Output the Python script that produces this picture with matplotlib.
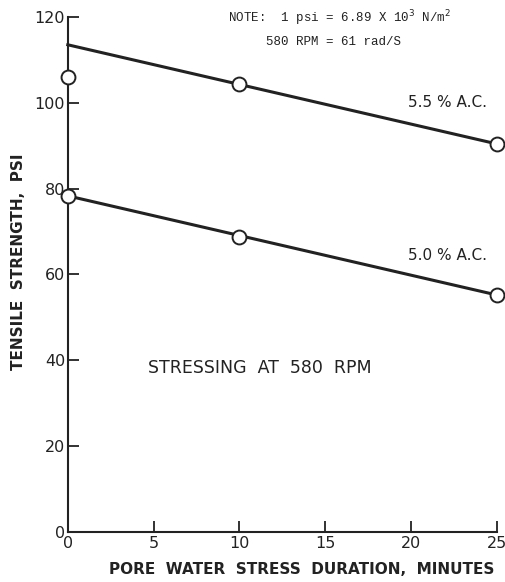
import matplotlib.pyplot as plt
import numpy as np

# measured points
x_pts = [0, 10, 25]
ac55_pts = [106.0, 104.4, 90.4]
ac50_pts = [78.3, 68.8, 55.2]

# fitted lines (ends)
line_x = [0, 25]
ac55_line = [113.5, 90.4]
ac50_line = [78.3, 55.2]

x_ticks = [0, 5, 10, 15, 20, 25]
y_ticks = [0, 20, 40, 60, 80, 100, 120]

INK = "#222222"
plt.rcParams["font.family"] = ["DejaVu Sans"]

fig = plt.figure(figsize=(5.06, 5.82), dpi=100)
ax = fig.add_axes([0.134, 0.086, 0.848, 0.885])

for ly, py in [(ac55_line, ac55_pts), (ac50_line, ac50_pts)]:
    ax.plot(line_x, ly, color=INK, lw=2.2, clip_on=False, zorder=2)
    ax.plot(x_pts, py, "o", ms=10, mfc="white", mec=INK, mew=1.4,
            clip_on=False, zorder=3)

ax.set_xlim(0, 25)
ax.set_ylim(0, 120)
ax.set_xticks(x_ticks)
ax.set_yticks(y_ticks)
ax.set_xticklabels([str(t) for t in x_ticks])
ax.set_yticklabels([str(t) for t in y_ticks])
ax.tick_params(direction="in", length=8, width=1.3, colors=INK,
               labelsize=11.5, pad=3)
ax.tick_params(axis="y", pad=2)

for s in ["top", "right"]:
    ax.spines[s].set_visible(False)
for s in ["left", "bottom"]:
    ax.spines[s].set_linewidth(1.5)
    ax.spines[s].set_color(INK)

ax.set_xlabel("PORE  WATER  STRESS  DURATION,  MINUTES", fontsize=11,
              fontweight="bold", color=INK)
ax.xaxis.set_label_coords(0.545, -0.058)
ax.set_ylabel("TENSILE  STRENGTH,  PSI", fontsize=11, fontweight="bold",
              color=INK)
ax.yaxis.set_label_coords(-0.098, 0.524)

ax.text(22.1, 100.0, "5.5 % A.C.", fontsize=11, ha="center", va="center",
        color=INK)
ax.text(22.1, 64.4, "5.0 % A.C.", fontsize=11, ha="center", va="center",
        color=INK)
ax.text(11.2, 38.2, "STRESSING  AT  580  RPM", fontsize=12.5, ha="center",
        va="center", color=INK)

ax.text(15.85, 119.8, "NOTE:  1 psi = 6.89 X 10$^3$ N/m$^2$", fontsize=9,
        family="Liberation Mono", ha="center", va="center", color=INK,
        clip_on=False)
ax.text(15.5, 114.2, "580 RPM = 61 rad/S", fontsize=9,
        family="Liberation Mono", ha="center", va="center", color=INK,
        clip_on=False)

fig.savefig("out.png", dpi=100)
